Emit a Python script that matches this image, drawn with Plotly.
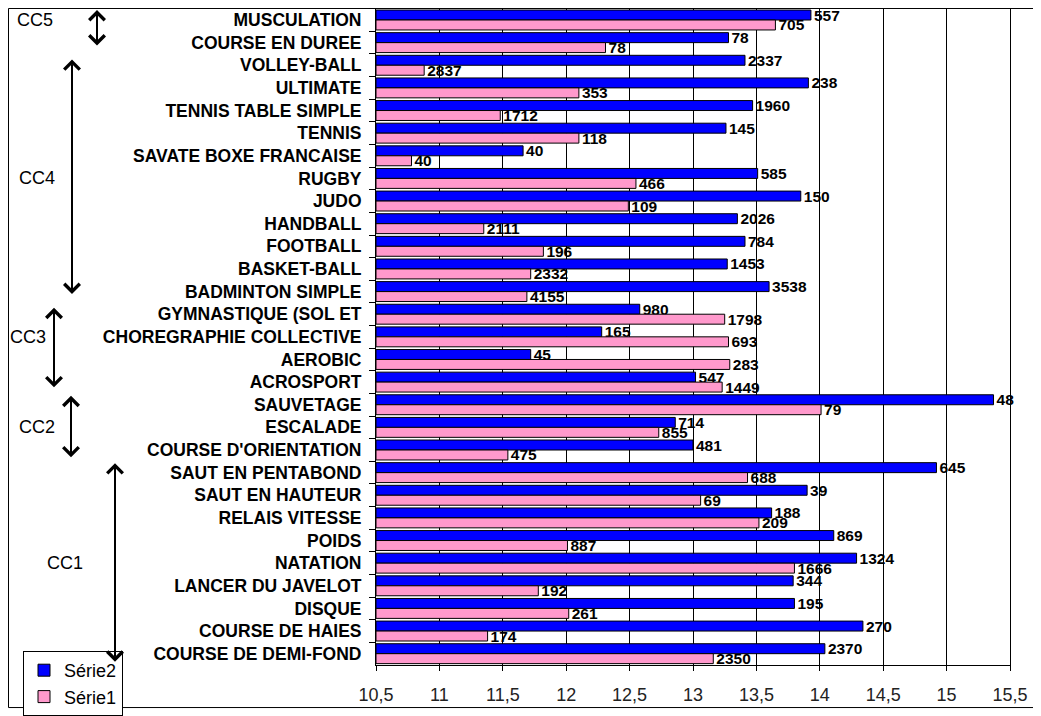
import plotly.graph_objects as go

# categories, top to bottom
sports = ["MUSCULATION", "COURSE EN DUREE", "VOLLEY-BALL", "ULTIMATE",
          "TENNIS TABLE SIMPLE", "TENNIS", "SAVATE BOXE FRANCAISE", "RUGBY",
          "JUDO", "HANDBALL", "FOOTBALL", "BASKET-BALL", "BADMINTON SIMPLE",
          "GYMNASTIQUE (SOL ET", "CHOREGRAPHIE COLLECTIVE", "AEROBIC",
          "ACROSPORT", "SAUVETAGE", "ESCALADE", "COURSE D'ORIENTATION",
          "SAUT EN PENTABOND", "SAUT EN HAUTEUR", "RELAIS VITESSE", "POIDS",
          "NATATION", "LANCER DU JAVELOT", "DISQUE", "COURSE DE HAIES",
          "COURSE DE DEMI-FOND"]

# average marks
serie2 = [13.93, 13.28, 13.41, 13.91, 13.47, 13.26, 11.66, 13.51, 13.85, 13.35,
          13.41, 13.27, 13.60, 12.58, 12.28, 11.72, 13.02, 15.37, 12.86, 13.00,
          14.92, 13.90, 13.62, 14.11, 14.29, 13.79, 13.80, 14.34, 14.04]
serie1 = [13.65, 12.31, 10.88, 12.10, 11.48, 12.10, 10.78, 12.55, 12.49, 11.35,
          11.82, 11.72, 11.69, 13.25, 13.28, 13.29, 13.23, 14.01, 12.73, 11.54,
          13.43, 13.06, 13.52, 12.01, 13.80, 11.78, 12.02, 11.38, 13.16]

# counts shown as bar labels
count2 = [557, 78, 2337, 238, 1960, 145, 40, 585, 150, 2026, 784, 1453, 3538,
          980, 165, 45, 547, 48, 714, 481, 645, 39, 188, 869, 1324, 344, 195,
          270, 2370]
count1 = [705, 78, 2837, 353, 1712, 118, 40, 466, 109, 2111, 196, 2332, 4155,
          1798, 693, 283, 1449, 79, 855, 475, 688, 69, 209, 887, 1666, 192, 261,
          174, 2350]

# groups of sports (label, row it sits on)
groups = [("CC5", "MUSCULATION"), ("CC4", "RUGBY"), ("CC3", "CHOREGRAPHIE COLLECTIVE"),
          ("CC2", "ESCALADE"), ("CC1", "NATATION")]

X_MIN, X_MAX = 10.5, 15.5
FONT = "Liberation Sans, Arial, sans-serif"

# page offset of the figure (body margin) and plot area in page pixels
OFF = 8
L, R, T, B = 376, 1010, 8, 672
W, H = 1041 - OFF, 716 - OFF


def px_x(px):
    return (px - L) / (R - L)


def px_y(py):
    return (B - py) / (B - T)


fig = go.Figure()
for name, vals, counts, color in [("Série2", serie2, count2, "#0000FF"),
                                  ("Série1", serie1, count1, "#FF99CC")]:
    fig.add_trace(go.Bar(
        y=sports,
        x=[v - X_MIN for v in vals],
        base=X_MIN,
        orientation="h",
        name=name,
        marker=dict(color=color, line=dict(color="#000000", width=1)),
        text=[str(c) for c in counts],
        textposition="outside",
        constraintext="none",
        cliponaxis=False,
        textfont=dict(family=FONT, size=15.5, color="black", weight="bold"),
    ))

annotations = []
group_x = {"CC5": 35, "CC4": 37, "CC3": 28, "CC2": 37, "CC1": 65}
for label, row in groups:
    annotations.append(dict(text=label, xref="paper", yref="y", x=px_x(group_x[label]), y=row,
                            showarrow=False, xanchor="center", yanchor="middle",
                            font=dict(family=FONT, size=18, color="black")))

# double arrows (x, top, bottom) in page pixels
arrows = [(97, 10, 47), (72, 60, 296), (54, 311, 392), (71, 400, 463), (115, 468, 668)]
for ax_px, top, bot in arrows:
    annotations.append(dict(text="", xref="paper", yref="paper", x=px_x(ax_px), y=px_y(top),
                            ax=0, ay=bot - top, axref="pixel", ayref="pixel",
                            showarrow=True, arrowside="end+start", arrowhead=4,
                            arrowsize=1.5, arrowwidth=2, arrowcolor="black"))

fig.update_layout(
    width=W, height=H,
    margin=dict(l=L - OFF, r=W - (R - OFF), t=T - OFF, b=H - (B - OFF)),
    paper_bgcolor="white", plot_bgcolor="white",
    barmode="group", bargap=0.12, bargroupgap=0,
    separators=", ",
    font=dict(family=FONT, color="black"),
    annotations=annotations,
    legend=dict(x=px_x(23), y=px_y(658), xanchor="left", yanchor="top",
                bgcolor="white", bordercolor="black", borderwidth=1,
                font=dict(family=FONT, size=18, color="black"),
                itemwidth=30, tracegroupgap=0),
    shapes=[dict(type="rect", xref="paper", yref="paper",
                 x0=px_x(OFF + 0.5), x1=px_x(1040), y0=px_y(715), y1=px_y(OFF + 0.5),
                 line=dict(color="black", width=1))],
)

fig.update_xaxes(range=[X_MIN, X_MAX], dtick=0.5, tick0=X_MIN,
                 showgrid=True, gridcolor="black", gridwidth=1,
                 showline=True, linecolor="black", linewidth=1, mirror=True,
                 ticks="outside", ticklen=5, tickcolor="black",
                 ticklabelstandoff=8, zeroline=False,
                 tickfont=dict(family=FONT, size=18, color="#222222"))
fig.update_yaxes(autorange="reversed", showgrid=False,
                 showline=True, linecolor="black", linewidth=1, mirror=True,
                 ticks="outside", ticklen=6, tickcolor="black", tickson="boundaries",
                 ticklabelstandoff=10,
                 tickfont=dict(family=FONT, size=17.5, color="black", weight="bold"))

fig.write_html("out.html")
